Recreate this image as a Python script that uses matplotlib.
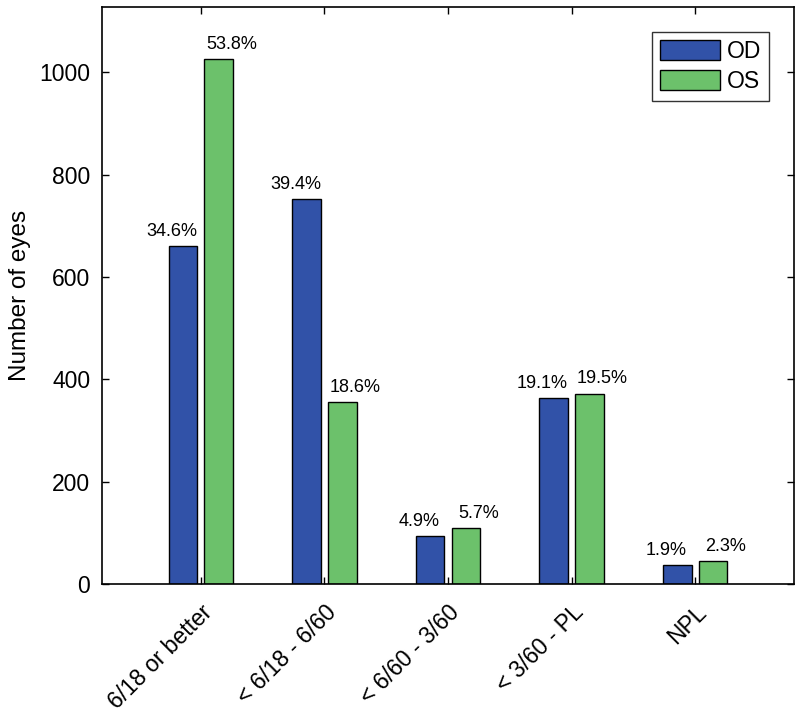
import matplotlib
matplotlib.use("Agg")
import matplotlib.pyplot as plt
import numpy as np

categories = ["6/18 or better", "< 6/18 - 6/60", "< 6/60 - 3/60", "< 3/60 - PL", "NPL"]
od_values = [660, 752, 94, 363, 37]
os_values = [1025, 355, 109, 372, 44]
od_pct = ["34.6%", "39.4%", "4.9%", "19.1%", "1.9%"]
os_pct = ["53.8%", "18.6%", "5.7%", "19.5%", "2.3%"]
yticks = [0, 200, 400, 600, 800, 1000]

plt.rcParams['font.family'] = ['Liberation Sans', 'DejaVu Sans']

fig = plt.figure(figsize=(8, 7.15), dpi=100)
ax = fig.add_axes([0.1275, 0.1832, 0.865, 0.8068])

x = np.arange(1, len(categories) + 1)
w = 0.232
off = 0.145
blue = "#3152A8"
green = "#6CC16B"
b1 = ax.bar(x - off, od_values, w, color=blue, edgecolor="black", linewidth=1.0, label="OD")
b2 = ax.bar(x + off, os_values, w, color=green, edgecolor="black", linewidth=1.0, label="OS")

for rect, t in zip(b1, od_pct):
    ax.annotate(t, (rect.get_x() + rect.get_width() / 2, rect.get_height()),
                xytext=(-8, 4.5), textcoords="offset points", ha="center", va="bottom", fontsize=13)
for rect, t in zip(b2, os_pct):
    ax.annotate(t, (rect.get_x() + rect.get_width() / 2, rect.get_height()),
                xytext=(9, 4.5), textcoords="offset points", ha="center", va="bottom", fontsize=13)

ax.set_xlim(0.2, 5.8)
ax.set_ylim(0, 1127)
ax.set_yticks(yticks)
ax.set_xticks(x)
ax.set_xticklabels(categories, rotation=45, ha="right", va="top", rotation_mode="anchor", fontsize=16.5)
ax.tick_params(axis="both", direction="in", length=5, width=1.0, top=True, right=True, labelsize=16.5)
ax.tick_params(axis="x", pad=12)
ax.tick_params(axis="y", pad=8.5)
for s in ax.spines.values():
    s.set_linewidth(1.2)
ax.set_ylabel("Number of eyes", fontsize=17.5, labelpad=6)

leg = ax.legend(loc="upper right", bbox_to_anchor=(0.964, 0.957), borderaxespad=0, fontsize=16.5,
                frameon=True, fancybox=False, edgecolor="black", handlelength=2.6, handleheight=1.0,
                borderpad=0.35, labelspacing=0.3, handletextpad=0.3)
leg.get_frame().set_linewidth(1.0)

fig.savefig("out.png", dpi=100)
